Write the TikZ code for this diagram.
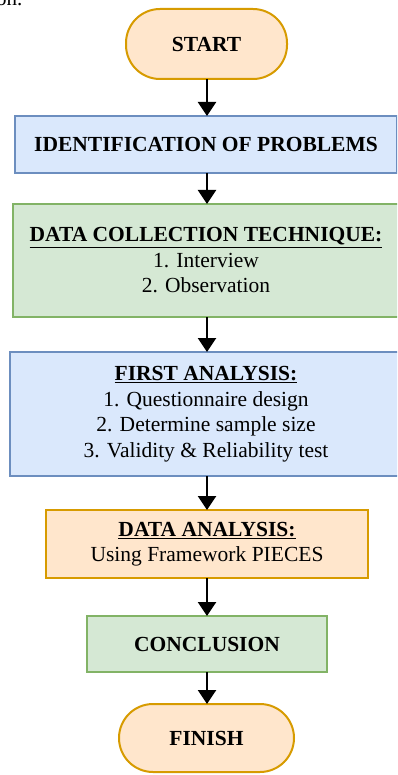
\documentclass[tikz,border=0pt]{standalone}
\usepackage{fontspec}
\setmainfont{Liberation Serif}
\usetikzlibrary{arrows.meta}
\definecolor{orfill}{HTML}{FFE6CC}
\definecolor{ordraw}{HTML}{D79B00}
\definecolor{blfill}{HTML}{DAE8FC}
\definecolor{bldraw}{HTML}{6C8EBF}
\definecolor{grfill}{HTML}{D5E8D4}
\definecolor{grdraw}{HTML}{82B366}
\tikzset{
  base/.style={inner sep=0pt, outer sep=0pt, line width=2pt, align=center,
    font=\fontsize{21.5}{25.5}\selectfont, text=black},
  terminal/.style={base, draw=ordraw, fill=orfill, rounded corners=34pt},
  bluebox/.style={base, draw=bldraw, fill=blfill},
  greenbox/.style={base, draw=grdraw, fill=grfill},
  orangebox/.style={base, draw=ordraw, fill=orfill},
  flow/.style={line width=2.5pt, black, -{Triangle[length=14pt,width=18pt]}}
}
\begin{document}
\begin{tikzpicture}[x=1pt,y=-1pt]
\path[clip] (0,0) rectangle (397,775);
\fill[white] (0,0) rectangle (397,775);
\node[anchor=base west, inner sep=0pt, font=\fontsize{21}{25}\selectfont] (frag) at (-4,6) {on.};
\node[terminal, minimum width=161pt, minimum height=70pt] (start) at (206.5,44) {\textbf{START}};
\node[bluebox, minimum width=382pt, minimum height=57pt] (ident) at (206,144.5) {\textbf{IDENTIFICATION OF PROBLEMS}};
\node[greenbox, minimum width=386pt, minimum height=113pt] (dct) at (206,260.5) {\textbf{\underline{DATA COLLECTION TECHNIQUE:}}\\1. Interview\\2. Observation};
\node[bluebox, minimum width=392pt, minimum height=124pt] (fa) at (206,414) {\textbf{\underline{FIRST ANALYSIS:}}\\1. Questionnaire design\\2. Determine sample size\\3. Validity \& Reliability test};
\node[orangebox, minimum width=322pt, minimum height=68pt] (da) at (207,544) {\textbf{\underline{DATA ANALYSIS:}}\\Using Framework PIECES};
\node[greenbox, minimum width=240pt, minimum height=56pt] (conc) at (207,644) {\textbf{CONCLUSION}};
\node[terminal, minimum width=175pt, minimum height=68pt] (finish) at (206.5,738) {\textbf{FINISH}};
\draw[flow] (start.south -| 207,0) -- (ident.north -| 207,0);
\draw[flow] (ident.south -| 207,0) -- (dct.north -| 207,0);
\draw[flow] (dct.south -| 207,0) -- (fa.north -| 207,0);
\draw[flow] (fa.south -| 207,0) -- (da.north -| 207,0);
\draw[flow] (da.south -| 207,0) -- (conc.north -| 207,0);
\draw[flow] (conc.south -| 207,0) -- (finish.north -| 207,0);
\end{tikzpicture}
\end{document}
